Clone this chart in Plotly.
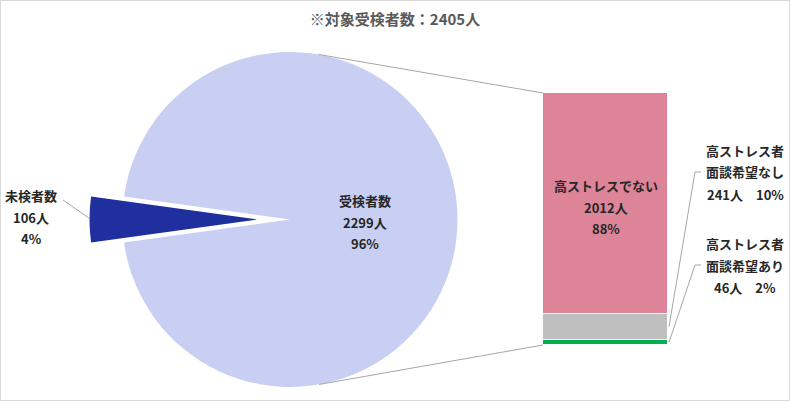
import math
import plotly.graph_objects as go

# ---- data ----
pie_labels = ["未検者数", "受検者数"]
pie_values = [106, 2299]
pie_colors = ["#1F2F9E", "#C9CFF3"]

bar_labels = ["高ストレスでない", "高ストレス者<br>面談希望なし", "高ストレス者<br>面談希望あり"]
bar_values = [2012, 241, 46]
bar_colors = ["#DD8498", "#BFBFBF", "#00B050"]

# ---- layout constants (pixels) ----
W, H = 790, 401
PIE_CX, PIE_CY, PIE_R = 290, 219.5, 167.5
EXPLODE = 33
BAR_L, BAR_R, BAR_TOP, BAR_BOT = 543, 668, 93, 345
LINE_GAP = 22
TEXT_COLOR = "#262626"
LINE_COLOR = "#A6A6A6"
FONT = "Noto Sans CJK JP"

# where each label block starts (x centre, y of first line)
pie_label_pos = [(31, 195), (365, 200)]
bar_label_pos = [(606, 185), (745, 150), (745, 243)]


def fx(px):
    return px / W


def fy(py):
    return 1 - py / H


total = sum(pie_values)
bar_total = sum(bar_values)
small_angle = 360 * pie_values[0] / total
rot = 270 - small_angle / 2
mid = math.radians(rot + small_angle / 2)

fig = go.Figure()

# main pie (small slice left empty -> gap)
fig.add_trace(go.Pie(
    labels=pie_labels, values=pie_values, sort=False,
    direction="clockwise", rotation=rot,
    marker=dict(colors=["rgba(0,0,0,0)", pie_colors[1]], line=dict(width=0)),
    textinfo="none", hoverinfo="skip", showlegend=False,
    domain=dict(x=[fx(PIE_CX - PIE_R), fx(PIE_CX + PIE_R)],
                y=[fy(PIE_CY + PIE_R), fy(PIE_CY - PIE_R)]),
))

# exploded slice, same pie shifted out along its bisector
ex_dx = EXPLODE * math.sin(mid)
ex_dy = -EXPLODE * math.cos(mid)
fig.add_trace(go.Pie(
    labels=pie_labels, values=pie_values, sort=False,
    direction="clockwise", rotation=rot,
    marker=dict(colors=[pie_colors[0], "rgba(0,0,0,0)"], line=dict(width=0)),
    textinfo="none", hoverinfo="skip", showlegend=False,
    domain=dict(x=[fx(PIE_CX + ex_dx - PIE_R), fx(PIE_CX + ex_dx + PIE_R)],
                y=[fy(PIE_CY + ex_dy + PIE_R), fy(PIE_CY + ex_dy - PIE_R)]),
))

# stacked bar, bottom segment first
for lab, v, c in reversed(list(zip(bar_labels, bar_values, bar_colors))):
    fig.add_trace(go.Bar(
        x=[0], y=[v], width=1, name=lab,
        marker=dict(color=c, line=dict(color="white", width=1)),
        hoverinfo="skip", showlegend=False,
    ))


def bar_py(v):
    return BAR_BOT - v * (BAR_BOT - BAR_TOP) / bar_total


shapes = []


def add_line(points):
    path = "M " + " L ".join(f"{fx(x)},{fy(y)}" for x, y in points)
    shapes.append(dict(type="path", xref="paper", yref="paper", path=path,
                       line=dict(color=LINE_COLOR, width=1)))


# pie -> bar connectors (tangent to the pie)
def tangent_point(px, py, sign):
    dx, dy = px - PIE_CX, py - PIE_CY
    d = math.hypot(dx, dy)
    phi = math.atan2(dy, dx)
    a = phi + sign * math.acos(PIE_R / d)
    return PIE_CX + PIE_R * math.cos(a), PIE_CY + PIE_R * math.sin(a)


add_line([tangent_point(BAR_L, BAR_TOP, -1), (BAR_L, BAR_TOP)])
add_line([tangent_point(BAR_L, BAR_BOT, 1), (BAR_L, BAR_BOT)])

# leader for the small slice
edge_x = PIE_CX + (PIE_R + EXPLODE) * math.sin(mid)
edge_y = PIE_CY - (PIE_R + EXPLODE) * math.cos(mid)
add_line([(63, 200), (edge_x, edge_y - 1)])

# leaders for the thin bar segments
cum = 0
seg_mid = []
for v in reversed(bar_values):
    seg_mid.append(cum + v / 2)
    cum += v
seg_mid = list(reversed(seg_mid))
for i in (1, 2):
    ly = bar_label_pos[i][1] + LINE_GAP
    add_line([(BAR_R + 1, bar_py(seg_mid[i])), (695, ly), (701, ly)])

# border
shapes.append(dict(type="rect", xref="paper", yref="paper", x0=0, x1=1, y0=0, y1=1,
                   line=dict(color="#D9D9D9", width=2)))

# labels
annotations = []


def add_block(x, y, lines):
    for k, t in enumerate(lines):
        annotations.append(dict(
            x=fx(x), y=fy(y + k * LINE_GAP), xref="paper", yref="paper",
            text=f"<b>{t}</b>", showarrow=False, xanchor="center", yanchor="middle",
            font=dict(family=FONT, size=13, color=TEXT_COLOR),
        ))


for (x, y), lab, v in zip(pie_label_pos, pie_labels, pie_values):
    add_block(x, y, [lab, f"{v}人", f"{round(v / total * 100)}%"])

for (x, y), lab, v in zip(bar_label_pos, bar_labels, bar_values):
    pct = round(v / bar_total * 100)
    if "<br>" in lab:
        add_block(x, y, lab.split("<br>") + [f"{v}人　{pct}%"])
    else:
        add_block(x, y, [lab, f"{v}人", f"{pct}%"])

fig.update_layout(
    width=W, height=H,
    margin=dict(l=0, r=0, t=0, b=0),
    paper_bgcolor="white", plot_bgcolor="white",
    barmode="stack", bargap=0,
    title=dict(text=f"<b>※対象受検者数：{total}人</b>", x=0.5, xanchor="center",
               y=fy(20), yanchor="middle",
               font=dict(family=FONT, size=15, color="#595959")),
    xaxis=dict(domain=[fx(BAR_L), fx(BAR_R)], range=[-0.5, 0.5], visible=False,
               fixedrange=True),
    yaxis=dict(domain=[fy(BAR_BOT), fy(BAR_TOP)], range=[0, bar_total], visible=False,
               fixedrange=True),
    shapes=shapes,
    annotations=annotations,
)

# drop the page's default body margin so the figure sits at the window origin
fig.write_html("out.html", config={"displayModeBar": False},
               post_script="document.body.style.margin='0';")
